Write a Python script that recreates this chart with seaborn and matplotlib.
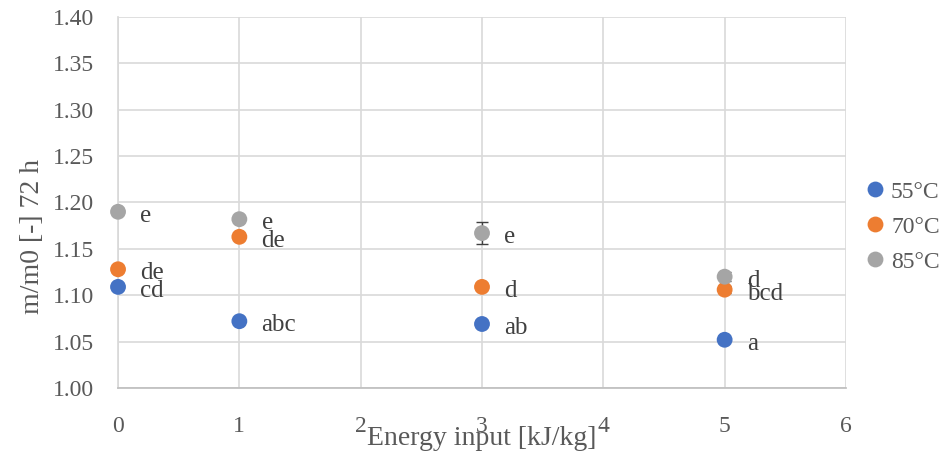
import matplotlib
matplotlib.use("Agg")
import matplotlib.pyplot as plt
import seaborn as sns
import pandas as pd
import numpy as np

energy = [0, 1, 3, 5]
temps = ["55°C", "70°C", "85°C"]
m55 = [1.109, 1.072, 1.069, 1.052]
m70 = [1.128, 1.163, 1.109, 1.106]
m85 = [1.190, 1.182, 1.167, 1.120]
err55 = [0.0, 0.0, 0.0, 0.0]
err70 = [0.0, 0.0, 0.0, 0.004]
err85 = [0.0, 0.0, 0.012, 0.005]
lab55 = ["cd", "abc", "ab", "a"]
lab70 = ["de", "de", "d", "bcd"]
lab85 = ["e", "e", "e", "d"]
colors = ["#4472C4", "#ED7D31", "#A5A5A5"]

rows = []
for t, vals, errs, labs in zip(temps, [m55, m70, m85], [err55, err70, err85], [lab55, lab70, lab85]):
    for x, v, e, l in zip(energy, vals, errs, labs):
        rows.append({"energy": x, "m": v, "err": e, "lab": l, "temp": t})
df = pd.DataFrame(rows)

sns.set_theme(style="white")
plt.rcParams["font.family"] = ["Liberation Serif", "DejaVu Serif"]

fig = plt.figure(figsize=(9.45, 4.59), dpi=100)
ax = fig.add_axes([0.1249, 0.1547, 0.8952 - 0.1249, 0.963 - 0.1547])

for t, c in zip(temps, colors):
    sub = df[df.temp == t]
    ax.errorbar(sub.energy, sub.m, yerr=sub.err, fmt="none", ecolor="#404040",
                elinewidth=1.0, capsize=4, capthick=1.0, zorder=2)

sns.scatterplot(data=df, x="energy", y="m", hue="temp", palette=colors,
                s=130, edgecolor="none", ax=ax, zorder=3, legend=True, clip_on=False)

for _, r in df.iterrows():
    ax.annotate(r.lab, (r.energy, r.m), xytext=(16, -3), textcoords="offset points",
                ha="left", va="center", fontsize=18, color="#404040")

ax.set_xlim(0, 6)
ax.set_ylim(1.0, 1.4)
ax.set_xticks(range(0, 7))
ax.set_yticks(np.arange(1.0, 1.401, 0.05))
ax.set_yticklabels([f"{v:.2f}" for v in np.arange(1.0, 1.401, 0.05)])
ax.grid(True, color="#D9D9D9", linewidth=1.2)
ax.set_axisbelow(True)
for s in ["top", "right"]:
    ax.spines[s].set_visible(False)
ax.spines["left"].set_color("#D9D9D9")
ax.spines["bottom"].set_color("#BFBFBF")
ax.tick_params(axis="y", labelsize=17, colors="#595959", length=0, pad=17)
ax.tick_params(axis="x", labelsize=17, colors="#595959", length=0, pad=20)
ax.set_xlabel("Energy input [kJ/kg]", fontsize=20, color="#595959")
ax.set_ylabel("m/m0 [-] 72 h", fontsize=20, color="#595959")
ax.xaxis.set_label_coords(0.5, -0.102)
ax.yaxis.set_label_coords(-0.10, 0.407)

leg = ax.legend(loc="center left", bbox_to_anchor=(1.023, 0.434), frameon=False,
                fontsize=17, handletextpad=0.2, handlelength=1.0, labelspacing=0.57,
                borderaxespad=0, borderpad=0)
for txt in leg.get_texts():
    txt.set_color("#595959")

fig.savefig("out.png", dpi=100)
